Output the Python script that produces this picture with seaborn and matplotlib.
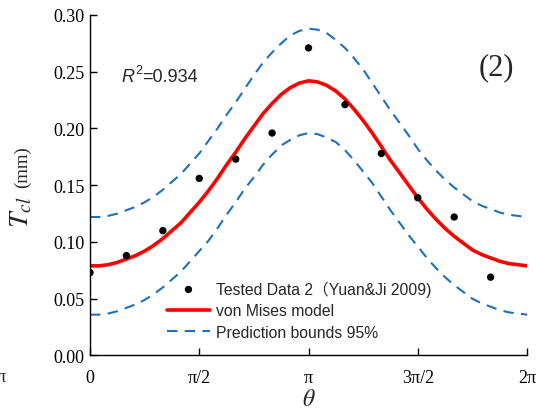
import numpy as np
import pandas as pd
import matplotlib
matplotlib.use("Agg")
import matplotlib.pyplot as plt
import seaborn as sns

# measured points (theta in steps of pi/6)
theta_pts = [k * np.pi / 6 for k in range(12)]
tcl_pts = [0.073, 0.088, 0.110, 0.156, 0.173, 0.196, 0.271, 0.221, 0.178, 0.139, 0.122, 0.069]

# model curve and 95% prediction bounds (theta in steps of pi/24)
theta_curve = [k * np.pi / 24 for k in range(49)]
model = [0.079, 0.079, 0.080, 0.082, 0.085, 0.088, 0.092, 0.097, 0.103, 0.110, 0.117, 0.126,
         0.135, 0.145, 0.156, 0.168, 0.179, 0.191, 0.202, 0.213, 0.222, 0.230, 0.236, 0.240,
         0.242, 0.241, 0.238, 0.233, 0.226, 0.217, 0.207, 0.196, 0.184, 0.172, 0.161, 0.150,
         0.139, 0.129, 0.120, 0.112, 0.105, 0.099, 0.093, 0.089, 0.086, 0.083, 0.081, 0.080, 0.079]
upper = [0.122, 0.122, 0.123, 0.125, 0.128, 0.131, 0.135, 0.140, 0.146, 0.153, 0.160, 0.169,
         0.178, 0.189, 0.200, 0.212, 0.223, 0.235, 0.247, 0.258, 0.267, 0.275, 0.282, 0.286,
         0.288, 0.287, 0.284, 0.278, 0.271, 0.262, 0.252, 0.240, 0.228, 0.216, 0.205, 0.194,
         0.182, 0.172, 0.163, 0.155, 0.148, 0.142, 0.136, 0.132, 0.129, 0.126, 0.124, 0.123, 0.122]
lower = [0.036, 0.036, 0.037, 0.039, 0.042, 0.045, 0.049, 0.054, 0.060, 0.067, 0.074, 0.083,
         0.092, 0.101, 0.112, 0.124, 0.135, 0.147, 0.157, 0.168, 0.177, 0.185, 0.190, 0.194,
         0.196, 0.195, 0.192, 0.188, 0.181, 0.172, 0.162, 0.152, 0.140, 0.128, 0.117, 0.106,
         0.096, 0.086, 0.077, 0.069, 0.062, 0.056, 0.050, 0.046, 0.043, 0.040, 0.038, 0.037, 0.036]

x_ticks = [0, np.pi / 2, np.pi, 3 * np.pi / 2, 2 * np.pi]
x_ticklabels = ["0", "π/2", "π", "3π/2", "2π"]
y_ticks = [0.00, 0.05, 0.10, 0.15, 0.20, 0.25, 0.30]

sns.set_style("ticks")
plt.rcParams["font.family"] = ["Liberation Serif", "DejaVu Serif"]
plt.rcParams["mathtext.fontset"] = "stix"

fig = plt.figure(figsize=(5.38, 4.14), dpi=100)
ax = fig.add_axes([0.1673, 0.1389, 0.8123, 0.8225])

blue = "#1f6fbf"
dash = (0, (5, 3.5))
sns.lineplot(x=theta_curve, y=upper, ax=ax, color=blue, lw=1.5, linestyle=dash, label="Prediction bounds 95%")
sns.lineplot(x=theta_curve, y=lower, ax=ax, color=blue, lw=1.5, linestyle=dash, label="_nolegend_")
sns.lineplot(x=theta_curve, y=model, ax=ax, color="#ff0000", lw=2.6, label="von Mises model")
sns.scatterplot(x=theta_pts, y=tcl_pts, ax=ax, color="black", s=28, edgecolor="none",
                label="Tested Data 2（Yuan&Ji 2009)", zorder=5)

ax.set_xlim(0, 2 * np.pi)
ax.set_ylim(0, 0.30)
ax.set_xticks(x_ticks)
ax.set_xticklabels(x_ticklabels)
ax.set_yticks(y_ticks)
ax.set_yticklabels([f"{v:.2f}" for v in y_ticks])
ax.tick_params(direction="in", length=5, width=1, labelsize=13, colors="black")
ax.tick_params(axis="x", pad=10)
ax.tick_params(axis="y", pad=4)
for s in ["top", "right"]:
    ax.spines[s].set_visible(False)
for s in ["left", "bottom"]:
    ax.spines[s].set_linewidth(1.0)
    ax.spines[s].set_color("black")

ax.set_xlabel(r"$\theta$", fontsize=17, labelpad=2)

# y label: big italic T with subscript, smaller "(mm)"
ax.text(-0.156, 0.424, r"$T_{cl}$", transform=ax.transAxes, rotation=90,
        fontsize=20, ha="center", va="center")
ax.text(-0.154, 0.557, "(mm)", transform=ax.transAxes, rotation=90,
        fontsize=13.5, ha="center", va="center")

# R^2 annotation in sans-serif, built from pieces
sans = ["Liberation Sans", "DejaVu Sans"]
t1 = ax.text(0.073, 0.793, "R", transform=ax.transAxes, fontsize=13, style="italic", family=sans, va="bottom")
t2 = ax.annotate("2", xy=(1, 0.55), xycoords=t1, fontsize=9, family=sans, va="bottom")
ax.annotate("=0.934", xy=(1, 0), xycoords=(t2, t1), fontsize=13, family=sans, va="bottom")

ax.text(0.930, 0.849, "(2)", transform=ax.transAxes, fontsize=22, ha="center", va="center")

# clipped tick label at the left edge of the figure
fig.text(-0.006, 1 - 378 / 414, "π", fontsize=13, va="center", ha="left")

h, l = ax.get_legend_handles_labels()
order = [l.index("Tested Data 2（Yuan&Ji 2009)"), l.index("von Mises model"), l.index("Prediction bounds 95%")]
leg = ax.legend([h[i] for i in order], [l[i] for i in order], loc="upper left",
                bbox_to_anchor=(0.166, 0.235), frameon=False, handlelength=2.7,
                labelspacing=0.42, handletextpad=0.4, borderaxespad=0, borderpad=0.3,
                prop={"family": ["Liberation Sans", "Noto Sans CJK SC"], "size": 11.3})

fig.savefig("out.png", dpi=100)
